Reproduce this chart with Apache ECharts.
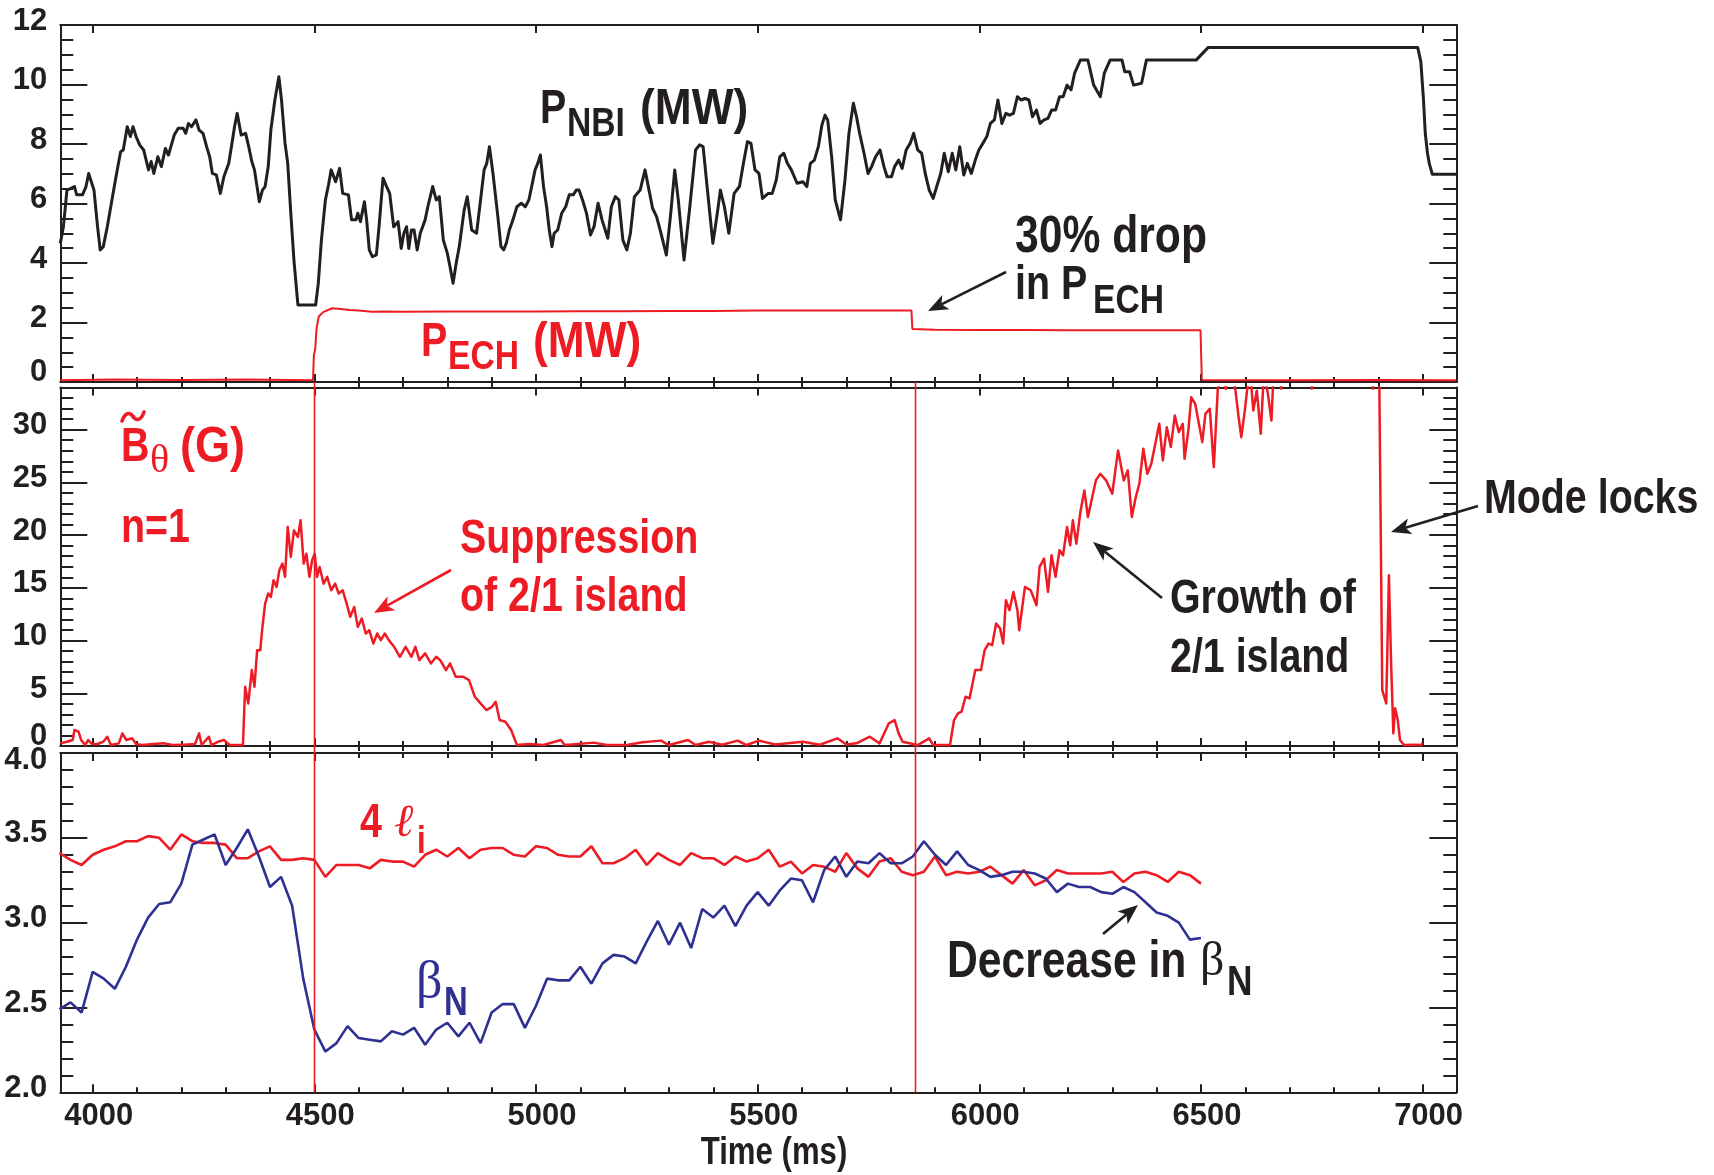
<!DOCTYPE html>
<html><head><meta charset="utf-8">
<script src="https://cdn.jsdelivr.net/npm/echarts@6/dist/echarts.min.js"></script>
<style>html,body{margin:0;padding:0;background:#fff}#c{width:1714px;height:1175px}</style>
</head><body><div id="c"></div><script>
// ---------------- DATA ----------------
const X_MIN = 3927, X_MAX = 7076;
const X_MAJOR = [4000, 4500, 5000, 5500, 6000, 6500, 7000];
const Y1_MAJOR = [0, 2, 4, 6, 8, 10, 12];
const Y2_MAJOR = [0, 5, 10, 15, 20, 25, 30];
const Y3_MAJOR = [2.0, 2.5, 3.0, 3.5, 4.0];

// P_NBI (MW): [time ms, MW]
const P_NBI = [[3927,4.66],[3934,5.22],[3942,6.45],[3951,6.51],[3959,6.57],[3964,6.29],[3977,6.29],[3985,6.57],[3991,7.01],[4003,6.45],[4011,5.22],[4017,4.44],[4024,4.55],[4033,5.22],[4046,6.34],[4054,7.01],[4063,7.74],[4069,7.80],[4078,8.58],[4085,8.25],[4091,8.58],[4098,8.25],[4106,7.97],[4115,7.80],[4126,7.13],[4132,7.41],[4138,7.01],[4147,7.57],[4155,7.24],[4164,7.85],[4171,7.63],[4184,8.30],[4193,8.53],[4204,8.53],[4210,8.36],[4216,8.69],[4223,8.58],[4233,8.81],[4240,8.47],[4249,8.36],[4257,7.91],[4264,7.57],[4270,7.01],[4279,6.96],[4288,6.34],[4296,6.90],[4307,7.35],[4313,7.91],[4320,8.58],[4326,9.03],[4335,8.30],[4345,8.36],[4352,7.91],[4359,7.41],[4365,7.13],[4376,6.06],[4383,6.45],[4389,6.57],[4396,7.24],[4402,8.47],[4411,9.48],[4420,10.26],[4426,9.48],[4434,8.02],[4440,7.35],[4447,5.67],[4454,4.10],[4463,2.59],[4503,2.59],[4509,3.32],[4516,4.77],[4525,6.12],[4532,6.62],[4538,7.13],[4542,7.07],[4548,6.73],[4557,7.18],[4564,6.34],[4577,6.29],[4584,5.45],[4594,5.45],[4598,5.67],[4604,5.39],[4613,6.06],[4618,5.45],[4624,4.44],[4631,4.21],[4640,4.27],[4646,5.22],[4655,6.85],[4663,6.57],[4670,6.34],[4679,5.22],[4689,5.39],[4696,4.49],[4702,5.00],[4708,5.22],[4713,4.49],[4719,5.11],[4725,5.11],[4732,4.44],[4739,5.00],[4750,5.45],[4756,5.89],[4767,6.57],[4775,6.12],[4782,6.23],[4791,4.77],[4800,4.33],[4806,3.88],[4813,3.32],[4820,3.99],[4827,4.55],[4838,5.78],[4845,6.23],[4849,6.17],[4855,5.11],[4866,5.00],[4875,6.12],[4883,7.13],[4889,7.35],[4895,7.91],[4903,7.01],[4914,5.56],[4921,4.55],[4927,4.44],[4933,4.66],[4940,5.11],[4948,5.45],[4957,5.89],[4967,6.01],[4976,5.89],[4984,6.12],[4998,7.13],[5004,7.35],[5010,7.63],[5017,6.57],[5024,5.89],[5030,5.11],[5036,4.55],
[5041,5.00],[5049,5.11],[5058,5.67],[5067,5.89],[5075,6.29],[5084,6.29],[5091,6.45],[5097,6.45],[5105,6.12],[5114,5.67],[5123,4.94],[5131,5.22],[5140,6.01],[5149,5.45],[5162,4.83],[5170,5.89],[5179,6.23],[5187,6.12],[5196,4.77],[5205,4.44],[5213,5.00],[5222,6.23],[5235,6.45],[5246,7.13],[5255,6.45],[5263,5.84],[5272,5.56],[5282,5.00],[5294,4.27],[5304,5.67],[5313,7.13],[5321,6.12],[5334,4.10],[5347,5.89],[5360,7.80],[5369,7.97],[5377,7.91],[5386,6.57],[5399,4.66],[5408,5.56],[5416,6.45],[5425,5.89],[5435,5.00],[5447,6.34],[5459,6.57],[5468,7.35],[5477,8.08],[5485,8.02],[5494,7.13],[5503,7.01],[5511,6.17],[5524,6.34],[5533,6.34],[5542,6.79],[5550,7.57],[5559,7.69],[5567,7.35],[5576,7.13],[5589,6.68],[5602,6.73],[5611,6.57],[5619,7.35],[5628,7.46],[5637,7.91],[5645,8.64],[5652,8.97],[5658,8.81],[5667,7.57],[5675,6.12],[5687,5.45],[5697,6.79],[5706,8.36],[5716,9.37],[5723,8.92],[5730,8.36],[5740,7.69],[5749,7.01],[5757,7.24],[5766,7.57],[5776,7.80],[5785,7.24],[5792,6.90],[5802,6.90],[5809,7.24],[5818,7.46],[5826,7.18],[5835,7.80],[5844,8.02],[5852,8.36],[5861,7.80],[5870,7.69],[5878,7.01],[5887,6.45],[5896,6.17],[5904,6.57],[5913,7.01],[5921,7.69],[5930,7.07],[5939,7.69],[5947,7.13],[5956,7.91],[5965,6.96],[5973,7.35],[5982,7.01],[5991,7.46],[5999,7.80],[6008,8.02],[6017,8.25],[6025,8.69],[6034,8.81],[6042,9.48],[6051,8.69],[6060,9.03],[6068,8.97],[6077,9.03],[6086,9.59],[6094,9.48],[6103,9.53],[6112,9.48],[6120,8.92],[6129,9.14],[6137,8.69],[6146,8.81],[6155,8.86],[6163,9.14],[6172,9.14],[6181,9.59],[6189,9.59],[6198,9.98],[6207,9.82],[6215,10.38],[6228,10.82],[6245,10.82],[6258,9.98],
[6273,9.59],[6282,10.38],[6295,10.82],[6322,10.82],[6328,10.43],[6339,10.43],[6348,9.98],[6366,10.04],[6377,10.82],[6489,10.82],[6516,11.24],[6989,11.24],[6996,10.77],[7002,9.48],[7006,8.36],[7011,7.69],[7015,7.35],[7022,6.98],[7076,6.98]];

// P_ECH (MW)
const P_ECH = [[3927,0.06],[4050,0.08],[4200,0.07],[4350,0.08],[4497,0.06],[4499,0.9],[4502,1.1],[4505,1.8],[4510,2.2],[4520,2.35],[4540,2.48],[4560,2.45],[4580,2.42],[4600,2.40],[4630,2.36],[4660,2.37],[4700,2.36],[4800,2.37],[4900,2.37],[5000,2.37],[5100,2.38],[5200,2.38],[5300,2.39],[5400,2.39],[5500,2.40],[5600,2.40],[5700,2.40],[5800,2.40],[5847,2.40],[5849,1.78],[5900,1.76],[6000,1.75],[6100,1.75],[6200,1.74],[6300,1.74],[6400,1.74],[6499,1.74],[6502,0.07],[6700,0.06],[6900,0.07],[7076,0.06]];

// B~theta n=1 (G)
const B_THETA = [[3927,0.25],[3942,0.41],[3955,0.57],[3959,1.52],[3968,1.36],[3974,0.57],[3983,0.09],[3990,0.57],[3998,0.19],[4011,0.19],[4024,0.41],[4033,0.88],[4041,0.09],[4059,0.25],[4067,1.20],[4076,0.57],[4089,0.73],[4098,0.19],[4111,0.09],[4136,0.19],[4162,0.25],[4180,0.09],[4206,0.13],[4231,0.19],[4240,1.20],[4246,0.09],[4262,0.88],[4268,0.09],[4283,0.41],[4296,0.57],[4309,0.09],[4339,0.09],[4344,5.62],[4351,4.04],[4359,7.20],[4365,5.62],[4371,9.09],[4378,9.09],[4383,11.30],[4389,13.51],[4396,14.46],[4402,14.14],[4408,15.72],[4415,15.09],[4421,16.67],[4428,17.30],[4434,16.04],[4440,20.77],[4447,17.93],[4454,20.45],[4463,19.82],[4469,21.40],[4476,17.30],[4482,18.24],[4489,16.04],[4495,17.61],[4501,18.24],[4506,16.04],[4512,16.98],[4521,15.40],[4529,16.04],[4538,14.77],[4547,15.40],[4555,14.46],[4564,14.77],[4573,13.51],[4581,12.25],[4590,13.19],[4598,11.30],[4607,12.09],[4616,10.67],[4624,10.98],[4633,9.72],[4642,10.67],[4650,10.04],[4659,10.67],[4668,10.04],[4680,9.41],[4693,8.46],[4706,9.41],[4719,8.46],[4728,9.41],[4737,8.14],[4750,8.78],[4763,7.83],[4775,8.46],[4784,8.14],[4797,7.20],[4806,7.83],[4819,6.57],[4836,6.57],[4849,6.25],[4862,4.67],[4875,4.04],[4888,3.41],[4901,3.72],[4909,4.20],[4918,2.46],[4931,2.30],[4944,1.52],[4957,0.09],[4983,0.19],[5017,0.09],[5056,0.57],[5065,0.09],[5095,0.19],[5130,0.32],
[5160,0.09],[5205,0.09],[5240,0.35],[5282,0.51],[5300,0.09],[5343,0.57],[5360,0.09],[5390,0.41],[5420,0.12],[5455,0.51],[5475,0.09],[5503,0.51],[5540,0.15],[5602,0.41],[5640,0.12],[5680,0.73],[5700,0.15],[5723,0.25],[5753,0.88],[5775,0.25],[5796,2.15],[5809,2.46],[5818,1.20],[5827,0.41],[5861,0.09],[5887,0.73],[5896,0.09],[5934,0.09],[5943,2.46],[5952,3.09],[5960,3.25],[5969,4.67],[5978,4.51],[5991,7.20],[6004,7.20],[6012,9.09],[6021,9.72],[6029,9.56],[6038,11.62],[6047,11.14],[6054,9.72],[6060,13.83],[6068,12.88],[6077,14.61],[6086,12.88],[6090,10.98],[6103,15.09],[6116,14.77],[6129,13.35],[6136,16.98],[6146,17.77],[6155,14.61],[6163,18.09],[6172,16.04],[6181,18.56],[6189,18.09],[6198,20.77],[6205,19.03],[6211,21.40],[6219,19.19],[6228,22.19],[6237,24.24],[6245,21.72],[6254,23.45],[6263,25.19],
[6273,25.82],[6286,25.19],[6300,23.93],[6313,28.03],[6326,25.19],[6335,26.14],[6344,21.72],[6353,23.61],[6361,24.87],[6370,28.19],[6379,25.82],[6388,26.77],[6397,28.66],[6406,30.56],[6414,27.08],[6423,30.24],[6432,28.35],[6441,31.34],[6450,29.77],[6459,30.56],[6463,27.24],[6472,30.08],[6478,33.08],[6487,32.45],[6494,30.87],[6503,28.82],[6510,31.50],[6520,31.98],[6529,26.45],[6538,33.87],[6547,35.0],[6556,33.87],[6569,35.5],[6578,33.7],[6584,31.50],[6591,29.29],[6598,31.50],[6604,33.7],[6611,35.5],[6618,31.82],[6626,33.7],[6635,29.61],[6642,35.5],[6651,33.4],[6659,30.87],[6664,35.5],[6678,36],[6681,33.9],[6684,36],[6747,36],[6750,33.9],[6753,36],[6885,36],[6888,33.9],[6891,36],[6902,36],[6909,5.30],[6918,4.04],[6924,16.19],[6929,7.83],[6934,1.20],[6938,3.57],[6944,2.46],[6949,0.57],[6958,0.09],[6980,0.12],[6997,0.09],[7000,0.3]];

// equilibrium time base (ms) for 4*l_i and beta_N
const T_EQ = [3925,3950,3975,
4000,4025,4050,4075,4100,4125,4150,4175,4200,4225,4250,4275,4300,4325,4350,4375,4400,4425,4450,4475,
4500,4525,4550,4575,4600,4625,4650,4675,4700,4725,4750,4775,4800,4825,4850,4875,4900,4925,4950,4975,
5000,5025,5050,5075,5100,5125,5150,5175,5200,5225,5250,5275,5300,5325,5350,5375,5400,5425,5450,5475,
5500,5525,5550,5575,5600,5625,5650,5675,5700,5725,5750,5775,5800,5825,5850,5875,5900,5925,5950,5975,
6000,6025,6050,6075,6100,6125,6150,6175,6200,6225,6250,6275,6300,6325,6350,6375,6400,6425,6450,6475,6500];
const LI4 = [3.41,3.37,3.34,
3.40,3.43,3.45,3.48, 3.48,3.51,3.50,3.43, 3.52,3.48,3.47,3.47, 3.46,3.38,3.38,3.42, 3.45,3.37,3.37,3.38,
3.37,3.27,3.34,3.34, 3.34,3.32,3.37,3.36, 3.36,3.33,3.40,3.43, 3.39,3.44,3.38,3.43, 3.44,3.44,3.40,3.39,
3.45,3.44,3.40,3.39, 3.39,3.45,3.35,3.35, 3.38,3.43,3.34,3.41, 3.37,3.34,3.41,3.38, 3.38,3.34,3.39,3.36,
3.38,3.43,3.33,3.36, 3.29,3.34,3.33,3.30, 3.41,3.32,3.27,3.36, 3.38,3.30,3.28,3.30, 3.39,3.28,3.30,3.29,
3.30,3.33,3.28,3.23, 3.31,3.22,3.25,3.31, 3.29,3.29,3.29,3.29, 3.30,3.24,3.29,3.30, 3.28,3.24,3.30,3.28, 3.23];
const BETA_N = [2.49,2.53,2.47,
2.71,2.67,2.61,2.74, 2.90,3.03,3.11,3.12, 3.23,3.46,3.49,3.52, 3.34,3.44,3.55,3.39, 3.21,3.27,3.10,2.67,
2.37,2.24,2.29,2.39, 2.32,2.31,2.30,2.36, 2.34,2.38,2.28,2.37, 2.41,2.33,2.41,2.29, 2.47,2.52,2.52,2.38,
2.51,2.67,2.66,2.66, 2.74,2.64,2.76,2.81, 2.80,2.76,2.89,3.01, 2.87,3.00,2.85,3.08, 3.03,3.10,2.98,3.10,
3.18,3.10,3.19,3.26, 3.25,3.12,3.31,3.39, 3.27,3.36,3.35,3.41, 3.35,3.35,3.39,3.48, 3.40,3.34,3.42,3.34,
3.31,3.27,3.28,3.30, 3.30,3.29,3.26,3.18, 3.23,3.21,3.21,3.18, 3.17,3.21,3.18,3.12, 3.06,3.04,3.00,2.90, 2.91];

const ECH_MARKS = [4500, 5855]; // vertical reference lines (ms)

// ---------------- STYLE ----------------
const BLACK = '#231f20', RED = '#ed1c24', BLUE = '#2e3192';
function fontExists(name){
  const ctx = document.createElement('canvas').getContext('2d');
  const s = 'Mode locks 0123456789 WMW';
  ctx.font = 'bold 40px monospace'; const w1 = ctx.measureText(s).width;
  ctx.font = 'bold 40px "' + name + '", monospace'; const w2 = ctx.measureText(s).width;
  return Math.abs(w1 - w2) > 0.5;
}
let NARROW = null;
for (const f of ['Liberation Sans Narrow','Arial Narrow','Nimbus Sans Narrow','Helvetica Condensed']) { if (fontExists(f)) { NARROW = f; break; } }
const SANS = NARROW ? '"' + NARROW + '"' : '"Liberation Sans", Arial, sans-serif';
const SX = NARROW ? 1 : 0.82;
const SERIF = '"Liberation Serif", "DejaVu Serif", serif';

function range(a, b, step, skip){ const out=[]; for(let v=a; v<=b+1e-9; v+=step){ const r=Math.round(v*1000)/1000; if(!skip.some(s=>Math.abs(s-r)<1e-6)) out.push(r);} return out; }
const X_MINOR = range(4000, 7000, 100, X_MAJOR);
const Y1_MINOR = range(0, 12, 0.5, Y1_MAJOR);
const Y2_MINOR = range(0, 33, 1, Y2_MAJOR);
const Y3_MINOR = range(2, 4, 0.1, Y3_MAJOR);

const LBL = {fontFamily: SANS, fontSize: 31, fontWeight: 'bold', color: BLACK};
const axLine = {show:true, onZero:false, lineStyle:{color:BLACK, width:2}};
const tickStyle = {color:BLACK, width:2};

function xAxes(g){
  const base = {type:'value', gridIndex:g, min:X_MIN, max:X_MAX, splitLine:{show:false}, axisPointer:{show:false}};
  return [
    Object.assign({}, base, {position:'bottom', axisLine:axLine,
      axisTick:{show:true, inside:true, length:8, customValues:X_MAJOR, lineStyle:tickStyle},
      axisLabel: g===2 ? {show:true, customValues:X_MAJOR, margin:9, formatter:v=>'{a|'+v+'}',
        rich:{a:Object.assign({padding:[0,0,0,12]}, LBL)}} : {show:false}}),
    Object.assign({}, base, {position:'bottom', axisLine:{show:false},
      axisTick:{show:true, inside:true, length:5, customValues:X_MINOR, lineStyle:tickStyle}, axisLabel:{show:false}}),
    Object.assign({}, base, {position:'top', axisLine:axLine,
      axisTick:{show:true, inside:true, length:8, customValues:X_MAJOR, lineStyle:tickStyle}, axisLabel:{show:false}}),
    Object.assign({}, base, {position:'top', axisLine:{show:false},
      axisTick:{show:true, inside:true, length:5, customValues:X_MINOR, lineStyle:tickStyle}, axisLabel:{show:false}})
  ];
}
function yAxes(g, min, max, major, minor, fmt){
  const base = {type:'value', gridIndex:g, min:min, max:max, splitLine:{show:false}, axisPointer:{show:false}};
  return [
    Object.assign({}, base, {position:'left', axisLine:axLine,
      axisTick:{show:true, inside:true, length:27, customValues:major, lineStyle:tickStyle},
      axisLabel:{show:true, customValues:major, margin:13, formatter:fmt,
        rich:{n:Object.assign({padding:[0,0,8,0]}, LBL), up:Object.assign({padding:[0,0,20,0]}, LBL), dn:Object.assign({padding:[14,0,0,0]}, LBL)}}}),
    Object.assign({}, base, {position:'left', axisLine:{show:false},
      axisTick:{show:true, inside:true, length:13, customValues:minor, lineStyle:tickStyle}, axisLabel:{show:false}}),
    Object.assign({}, base, {position:'right', axisLine:axLine,
      axisTick:{show:true, inside:true, length:27, customValues:major, lineStyle:tickStyle}, axisLabel:{show:false}}),
    Object.assign({}, base, {position:'right', axisLine:{show:false},
      axisTick:{show:true, inside:true, length:13, customValues:minor, lineStyle:tickStyle}, axisLabel:{show:false}})
  ];
}

const chart = echarts.init(document.getElementById('c'), null, {renderer:'canvas'});
const G = {left:60.3, right:257.7, outerBoundsMode:'none', containLabel:false};
const option = {
  animation:false,
  backgroundColor:'#ffffff',
  grid:[Object.assign({top:25, height:357}, G), Object.assign({top:387.5, height:358.5}, G), Object.assign({top:753, height:339.3}, G)],
  xAxis:[].concat(xAxes(0), xAxes(1), xAxes(2)),
  yAxis:[].concat(
    yAxes(0, 0, 12, Y1_MAJOR, Y1_MINOR, v => v===0 ? '{up|0}' : '{n|'+v+'}'),
    yAxes(1, 0, 34, Y2_MAJOR, Y2_MINOR, v => v===0 ? '{up|0}' : '{n|'+v+'}'),
    yAxes(2, 2, 4, Y3_MAJOR, Y3_MINOR, v => v===4 ? '{dn|4.0}' : '{n|'+v.toFixed(1)+'}')),
  series:[
    {type:'line', name:'P_ECH', xAxisIndex:0, yAxisIndex:0, data:P_ECH, symbol:'none', lineStyle:{color:RED, width:2}, z:2},
    {type:'line', name:'P_NBI', xAxisIndex:0, yAxisIndex:0, data:P_NBI, symbol:'none', lineStyle:{color:BLACK, width:3, join:'round'}, z:3},
    {type:'line', name:'Btheta', xAxisIndex:4, yAxisIndex:4, data:B_THETA, symbol:'none', lineStyle:{color:RED, width:2.5, join:'round'}},
    {type:'line', name:'4li', xAxisIndex:8, yAxisIndex:8, data:T_EQ.map((t,i)=>[t, LI4[i]]), symbol:'none', lineStyle:{color:RED, width:2.6}},
    {type:'line', name:'betaN', xAxisIndex:8, yAxisIndex:8, data:T_EQ.map((t,i)=>[t, BETA_N[i]]), symbol:'none', lineStyle:{color:BLUE, width:2.6}}
  ]
};
chart.setOption(option);

// ---------------- ANNOTATIONS ----------------
const ann = [];
function txt(s, x, y, color, size, opt){
  opt = opt || {};
  const fam = opt.serif ? SERIF : SANS;
  ann.push({type:'text', x:x, y:y, z:100, scaleX: (opt.serif ? 1 : SX) * (opt.sx || 1),
    style:{text:s, fill:color, font:(opt.italic?'italic ':'') + (opt.normal?'normal ':'bold ') + size + 'px ' + fam,
      align:opt.align||'left', verticalAlign:'middle'}});
}
function arrow(x1, y1, x2, y2, color){
  const dx=x2-x1, dy=y2-y1, L=Math.hypot(dx,dy), ux=dx/L, uy=dy/L;
  const hl=20, hw=8, notch=5;
  const bx=x2-ux*hl, by=y2-uy*hl;
  ann.push({type:'line', z:100, shape:{x1:x1, y1:y1, x2:bx+ux*notch, y2:by+uy*notch}, style:{stroke:color, lineWidth:2.6}});
  ann.push({type:'polygon', z:100, shape:{points:[[x2,y2],[bx-uy*hw,by+ux*hw],[bx+ux*notch,by+uy*notch],[bx+uy*hw,by-ux*hw]]}, style:{fill:color}});
}
const FS = 48, FSS = 41;
// panel 1
txt('P', 540, 110, BLACK, FS); txt('NBI', 567, 125, BLACK, FSS); txt('(MW)', 640, 110, BLACK, 50, {sx:1.08});
txt('P', 421, 343, RED, FS); txt('ECH', 448, 358, RED, FSS); txt('(MW)', 533, 343, RED, 50, {sx:1.08});
txt('30% drop', 1015, 238, BLACK, 52);
txt('in P', 1015, 286, BLACK, FS); txt('ECH', 1093, 302, BLACK, FSS);
arrow(1006, 272, 928, 311, BLACK);
// panel 2
const tildeStyle = {stroke:RED, lineWidth:3.6, fill:null, lineCap:'round'};
ann.push({type:'bezierCurve', z:100, shape:{x1:122, y1:421, cpx1:125, cpy1:412, cpx2:130, cpy2:412, x2:133, y2:416.5}, style:tildeStyle});
ann.push({type:'bezierCurve', z:100, shape:{x1:133, y1:416.5, cpx1:136, cpy1:421, cpx2:141, cpy2:421, x2:144, y2:412}, style:tildeStyle});
txt('B', 121, 448, RED, FS); txt('\u03B8', 150, 461, RED, 40, {serif:true, normal:true}); txt('(G)', 180, 448, RED, 50, {sx:1.1});
txt('n=1', 121, 529, RED, FS);
txt('Suppression', 460, 540, RED, FS); txt('of 2/1 island', 460, 598, RED, FS);
arrow(451, 570, 374, 613, RED);
txt('Growth of', 1170, 600, BLACK, FS); txt('2/1 island', 1170, 659, BLACK, FS);
arrow(1162, 598, 1093, 542, BLACK);
txt('Mode locks', 1484, 500, BLACK, FS);
arrow(1478, 506, 1391, 532, BLACK);
// panel 3
txt('4', 360, 824, RED, FS); txt('\u2113', 394, 824, RED, 46, {serif:true, italic:true, normal:true}); txt('i', 417, 843, RED, 38);
txt('\u03B2', 416, 983, BLUE, 52, {serif:true, normal:true}); txt('N', 444, 1004, BLUE, 40);
txt('Decrease in', 947, 963, BLACK, 52); txt('\u03B2', 1200, 962, BLACK, 48, {serif:true, normal:true}); txt('N', 1227, 983, BLACK, 43);
arrow(1103, 934, 1138, 905, BLACK);
// axis title
txt('Time (ms)', 774, 1154, BLACK, 38, {align:'center'});

// vertical reference lines through panels 2-3 (positions from library scales)
const yTop = chart.convertToPixel({yAxisIndex:0}, 0);
const yBot = chart.convertToPixel({yAxisIndex:8}, 2);
ECH_MARKS.forEach(t => {
  const px = Math.round(chart.convertToPixel({xAxisIndex:0}, t)) + 0.5;
  ann.push({type:'line', z:50, shape:{x1:px, y1:yTop, x2:px, y2:yBot}, style:{stroke:RED, lineWidth:1.6}});
});
chart.setOption({graphic: ann});
</script></body></html>
